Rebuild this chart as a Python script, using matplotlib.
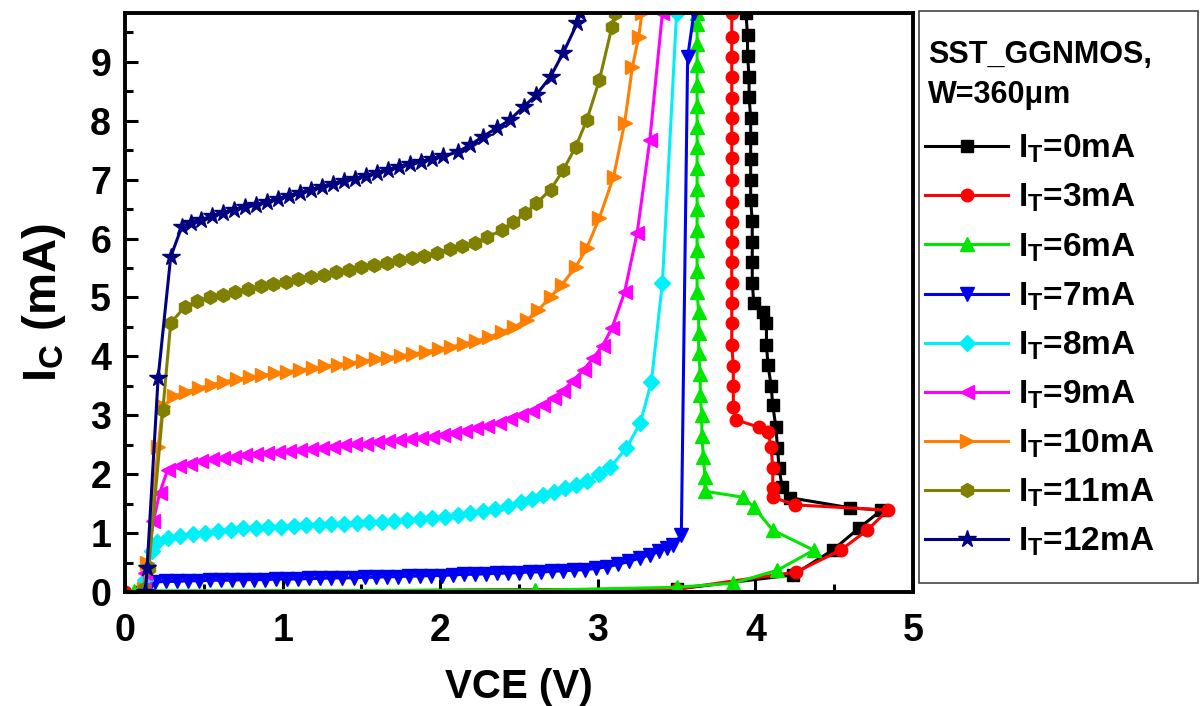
import matplotlib

matplotlib.use("Agg")

import matplotlib.pyplot as plt  # noqa: E402
from matplotlib.patches import Rectangle  # noqa: E402

plt.rcParams["font.family"] = ["Liberation Sans", "DejaVu Sans"]
plt.rcParams["font.weight"] = "bold"
plt.rcParams["mathtext.default"] = "regular"

# --- trigger current I_T series: VCE (V) and IC (mA) ---
V0 = [0.10, 3.50, 4.24, 4.49, 4.66, 4.80, 4.60, 4.22, 4.17, 4.15, 4.14, 4.13,
      4.11, 4.10, 4.08, 4.07, 4.07, 4.05, 3.99, 3.98, 3.98, 3.98, 3.98, 3.97, 3.97,
      3.97, 3.97, 3.97, 3.96, 3.96, 3.95, 3.95, 3.94]
I0 = [0.00, 0.05, 0.29, 0.71, 1.09, 1.39, 1.43, 1.60, 1.78, 2.10, 2.45, 2.80,
      3.17, 3.50, 3.85, 4.20, 4.57, 4.75, 4.90, 5.25, 5.60, 5.95, 6.30, 6.65, 7.00,
      7.35, 7.70, 8.05, 8.40, 8.75, 9.10, 9.45, 9.83]

V3 = [0.00, 3.50, 4.26, 4.54, 4.71, 4.84, 4.25, 4.11, 4.11, 4.11, 4.10, 4.08, 4.02,
      3.88, 3.86, 3.86, 3.86, 3.85, 3.85, 3.85, 3.85, 3.85, 3.85, 3.85, 3.85, 3.85,
      3.85, 3.85, 3.85, 3.85, 3.85, 3.85, 3.85, 3.85]
I3 = [0.00, 0.05, 0.34, 0.71, 1.05, 1.39, 1.48, 1.61, 1.77, 2.10, 2.46, 2.72, 2.80,
      2.92, 3.14, 3.49, 3.83, 4.20, 4.57, 4.91, 5.25, 5.60, 5.94, 6.28, 6.62, 7.00,
      7.37, 7.71, 8.05, 8.39, 8.74, 9.08, 9.42, 9.83]

V6 = [0.06, 2.60, 3.50, 3.86, 4.14, 4.37, 4.11, 3.99, 3.92, 3.68, 3.68, 3.67, 3.66,
      3.66, 3.65, 3.65, 3.64, 3.64, 3.64, 3.63, 3.63, 3.63, 3.63, 3.63, 3.63, 3.63,
      3.63, 3.63, 3.63, 3.63, 3.63, 3.63, 3.63, 3.63]
I6 = [0.02, 0.03, 0.08, 0.15, 0.37, 0.71, 1.05, 1.44, 1.61, 1.71, 1.95, 2.30, 2.65,
      3.00, 3.35, 3.70, 4.05, 4.40, 4.75, 5.10, 5.45, 5.80, 6.15, 6.50, 6.85, 7.20,
      7.55, 7.90, 8.25, 8.60, 8.95, 9.30, 9.65, 9.83]

V7 = [0.12, 0.15, 0.19, 0.26, 0.33, 0.40, 0.47, 0.54, 0.61, 0.68, 0.75, 0.82, 0.89,
      0.96, 1.03, 1.10, 1.17, 1.24, 1.31, 1.38, 1.45, 1.52, 1.59, 1.66, 1.73, 1.80,
      1.87, 1.94, 2.01, 2.08, 2.15, 2.22, 2.29, 2.36, 2.43, 2.50, 2.57, 2.64, 2.71,
      2.78, 2.85, 2.92, 2.99, 3.06, 3.13, 3.20, 3.27, 3.33, 3.39, 3.44, 3.48, 3.53,
      3.57, 3.61]
I7 = [0.00, 0.10, 0.17, 0.18, 0.18, 0.19, 0.19, 0.20, 0.20, 0.20, 0.21, 0.21, 0.21,
      0.22, 0.22, 0.22, 0.23, 0.23, 0.24, 0.24, 0.24, 0.25, 0.25, 0.26, 0.26, 0.27,
      0.27, 0.28, 0.28, 0.29, 0.30, 0.30, 0.31, 0.32, 0.32, 0.33, 0.34, 0.34, 0.35,
      0.36, 0.37, 0.38, 0.40, 0.43, 0.47, 0.52, 0.58, 0.63, 0.69, 0.75, 0.80, 0.97,
      9.08, 9.83]

V8 = [0.12, 0.13, 0.17, 0.20, 0.27, 0.35, 0.43, 0.51, 0.59, 0.67, 0.75, 0.83, 0.91,
      0.99, 1.07, 1.15, 1.23, 1.31, 1.39, 1.47, 1.55, 1.63, 1.71, 1.79, 1.87, 1.95,
      2.03, 2.11, 2.19, 2.27, 2.35, 2.43, 2.51, 2.58, 2.65, 2.72, 2.79, 2.86, 2.93,
      3.01, 3.08, 3.18, 3.27, 3.34, 3.41, 3.50]
I8 = [0.05, 0.20, 0.70, 0.85, 0.91, 0.95, 0.98, 1.01, 1.04, 1.06, 1.08, 1.09, 1.10,
      1.11, 1.12, 1.13, 1.14, 1.15, 1.16, 1.17, 1.18, 1.19, 1.21, 1.22, 1.24, 1.26,
      1.28, 1.31, 1.34, 1.37, 1.41, 1.46, 1.52, 1.58, 1.64, 1.70, 1.76, 1.82, 1.89,
      2.00, 2.12, 2.44, 2.87, 3.57, 5.25, 9.83]

V9 = [0.12, 0.13, 0.18, 0.22, 0.27, 0.34, 0.41, 0.48, 0.55, 0.62, 0.69, 0.76, 0.83,
      0.90, 0.97, 1.04, 1.11, 1.18, 1.25, 1.32, 1.39, 1.46, 1.53, 1.60, 1.67, 1.74,
      1.81, 1.88, 1.95, 2.02, 2.09, 2.16, 2.23, 2.30, 2.37, 2.44, 2.51, 2.58, 2.65,
      2.72, 2.78, 2.84, 2.91, 2.97, 3.03, 3.09, 3.17, 3.25, 3.33, 3.41]
I9 = [0.05, 0.32, 1.20, 1.68, 2.07, 2.14, 2.18, 2.22, 2.25, 2.28, 2.30, 2.32, 2.34,
      2.36, 2.37, 2.39, 2.41, 2.43, 2.45, 2.47, 2.49, 2.51, 2.52, 2.54, 2.56, 2.58,
      2.60, 2.62, 2.64, 2.67, 2.70, 2.74, 2.78, 2.82, 2.87, 2.93, 3.00, 3.08, 3.18,
      3.30, 3.42, 3.58, 3.77, 3.97, 4.18, 4.48, 5.09, 6.10, 7.67, 9.83]

V10 = [0.12, 0.14, 0.21, 0.24, 0.31, 0.39, 0.47, 0.55, 0.63, 0.71, 0.79, 0.87, 0.95,
       1.03, 1.11, 1.19, 1.27, 1.35, 1.43, 1.51, 1.59, 1.67, 1.75, 1.83, 1.91, 1.99,
       2.07, 2.15, 2.23, 2.31, 2.39, 2.47, 2.55, 2.62, 2.70, 2.77, 2.86, 2.93, 3.01,
       3.10, 3.17, 3.22, 3.26, 3.28]
I10 = [0.05, 0.50, 2.46, 3.15, 3.32, 3.40, 3.46, 3.52, 3.57, 3.61, 3.65, 3.68, 3.71,
       3.74, 3.77, 3.80, 3.83, 3.86, 3.89, 3.92, 3.95, 3.98, 4.01, 4.04, 4.08, 4.12,
       4.16, 4.21, 4.26, 4.33, 4.41, 4.50, 4.62, 4.78, 5.01, 5.21, 5.52, 5.84, 6.35,
       7.05, 7.96, 8.92, 9.43, 9.83]

V11 = [0.12, 0.15, 0.24, 0.29, 0.38, 0.46, 0.54, 0.62, 0.70, 0.78, 0.86, 0.94, 1.02,
       1.10, 1.18, 1.26, 1.34, 1.42, 1.50, 1.58, 1.66, 1.74, 1.82, 1.90, 1.98, 2.06,
       2.14, 2.22, 2.30, 2.39, 2.46, 2.54, 2.61, 2.70, 2.78, 2.86, 2.93, 3.01, 3.09,
       3.11]
I11 = [0.05, 0.40, 3.09, 4.57, 4.84, 4.94, 5.00, 5.05, 5.10, 5.14, 5.19, 5.23, 5.27,
       5.31, 5.35, 5.39, 5.43, 5.47, 5.51, 5.55, 5.59, 5.63, 5.67, 5.71, 5.76, 5.82,
       5.87, 5.92, 6.03, 6.14, 6.28, 6.43, 6.60, 6.83, 7.16, 7.56, 8.01, 8.69, 9.60,
       9.83]

V12 = [0.13, 0.14, 0.21, 0.29, 0.36, 0.42, 0.48, 0.55, 0.62, 0.69, 0.76, 0.83, 0.90,
       0.97, 1.04, 1.11, 1.18, 1.25, 1.32, 1.39, 1.46, 1.53, 1.60, 1.67, 1.74, 1.81,
       1.88, 1.95, 2.02, 2.11, 2.19, 2.27, 2.36, 2.44, 2.53, 2.61, 2.70, 2.78, 2.87,
       2.89]
I12 = [0.00, 0.40, 3.63, 5.69, 6.20, 6.27, 6.32, 6.38, 6.44, 6.49, 6.53, 6.57, 6.62,
       6.67, 6.72, 6.77, 6.82, 6.87, 6.92, 6.97, 7.02, 7.07, 7.12, 7.17, 7.22, 7.26,
       7.30, 7.35, 7.40, 7.47, 7.59, 7.73, 7.88, 8.01, 8.24, 8.44, 8.75, 9.15, 9.66,
       9.83]

LABELS = ["0", "3", "6", "7", "8", "9", "10", "11", "12"]
SERIES = [(V0, I0), (V3, I3), (V6, I6), (V7, I7), (V8, I8), (V9, I9),
          (V10, I10), (V11, I11), (V12, I12)]

# Origin-like palette and symbols
COLORS = ["#000000", "#FF0000", "#00E600", "#0000F0", "#00F0F8", "#FF00FF",
          "#FF8000", "#808000", "#000080"]
MARKERS = ["s", "o", "^", "v", "D", "<", ">", "h", "*"]
SIZES = [8, 9, 10, 10, 8, 10, 10, 10, 13]

fig = plt.figure(figsize=(12, 7.06), dpi=100)
ax = fig.add_axes([125 / 1200, 1 - 592 / 706, (913 - 125) / 1200, (592 - 13) / 706])

for (v, i), lab, c, m, ms in zip(SERIES, LABELS, COLORS, MARKERS, SIZES):
    ax.plot(v, i, color=c, marker=m, markersize=ms, linewidth=2.2,
            markeredgecolor=c, label=f"I$_\\mathregular{{T}}$={lab}mA")

ax.set_xlim(0, 5)
ax.set_ylim(0, 9.83)
ax.set_xticks(range(6))
ax.set_yticks(range(10))
ax.set_xticks([0.5, 1.5, 2.5, 3.5, 4.5], minor=True)
ax.set_yticks([0.5 + k for k in range(10)], minor=True)
ax.tick_params(which="both", direction="in", width=2.2, labelsize=27)
ax.tick_params(which="major", length=9.5)
ax.tick_params(which="minor", length=5.5)
ax.tick_params(axis="x", pad=15)
ax.tick_params(axis="y", pad=10)
for s in ax.spines.values():
    s.set_linewidth(2.8)

ax.set_xlabel("VCE (V)", fontsize=29, fontweight="bold", labelpad=14)
ax.set_ylabel("I$_\\mathregular{C}$ (mA)", fontsize=34, fontweight="bold", labelpad=16)

# legend box outside the axes, on the right
fig.add_artist(Rectangle((919 / 1200, 1 - 583 / 706), (1198 - 919) / 1200, (583 - 11) / 706,
                         transform=fig.transFigure, fill=False, edgecolor="#444444",
                         linewidth=1.2))
fig.text(928 / 1200, 1 - 40 / 706, "SST_GGNMOS,\nW=360\u03bcm", ha="left", va="top",
         fontsize=22, fontweight="bold", linespacing=1.45)
leg = ax.legend(loc="upper left", bbox_to_anchor=(925 / 1200, 1 - 133 / 706),
                bbox_transform=fig.transFigure, frameon=False, fontsize=24,
                handlelength=2.5, handletextpad=0.3, labelspacing=0.5,
                borderaxespad=0, borderpad=0)

fig.savefig("out.png", dpi=100, facecolor="white")
